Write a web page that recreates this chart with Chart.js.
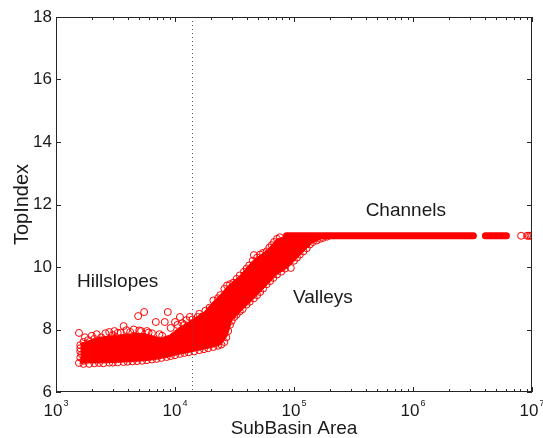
<!DOCTYPE html>
<html lang="en">
<head>
  <meta charset="UTF-8">
  <title>TopIndex vs SubBasin Area</title>
  <style>
    body {
      margin: 0;
      background-color: #ffffff;
      font-family: "Liberation Sans", Arial, sans-serif;
    }

    .chart {
      width: 543px;
      height: 438px;
    }
  </style>
</head>
<body>
  <div class="chart">
    <canvas id="topChart" width="543" height="438"></canvas>
  </div>

  <script src="https://cdn.jsdelivr.net/npm/chart.js"></script>
  <script>
    // axis ticks
    const areaTicks = [1e3, 1e4, 1e5, 1e6, 1e7];
    const areaTickExp = ['3', '4', '5', '6', '7'];
    const indexTicks = [6, 8, 10, 12, 14, 16, 18];
    const dividerArea = 1.39e4;

    // dense core of the point cloud (upper and lower edge of the mass)
    const bandArea = [1.6e3, 2.3e3, 3.3e3, 4.5e3, 5.5e3, 6.5e3, 7.5e3, 9e3, 1.05e4, 1.35e4, 1.75e4, 2.1e4,
                      2.45e4, 2.75e4, 3e4, 3.5e4, 4.5e4, 6e4, 7.2e4, 9e4, 1.1e5, 1.4e5, 1.8e5];
    const bandTop = [7.55, 7.75, 7.82, 7.87, 7.87, 7.8, 7.72, 7.82, 8.02, 8.28, 8.55, 8.9,
                     9.15, 9.38, 9.5, 9.72, 10.2, 10.55, 10.9, 11.0, 11.0, 11.0, 11.0];
    const bandBase = [6.93, 6.93, 6.95, 6.98, 7.0, 7.03, 7.07, 7.13, 7.2, 7.28, 7.37, 7.44,
                      7.52, 7.8, 8.28, 8.55, 8.95, 9.45, 9.76, 10.0, 10.35, 10.75, 10.95];

    // hillslope points around the edge of the mass
    const hillArea = [1.56e3, 1.6e3, 1.6e3, 1.56e3, 1.7e3, 1.86e3, 1.9e3, 2.1e3, 2.4e3, 2.8e3, 3.0e3, 3.3e3,
                      3.7e3, 4.2e3, 4.9e3, 5.5e3, 5.2e3, 6.0e3, 6.9e3, 7.8e3, 8.2e3, 8.7e3, 1.0e4, 1.1e4,
                      1.2e4, 1.33e4, 1.55e4, 1.8e4,
                      1.75e3, 2.0e3, 2.2e3, 2.6e3, 3.1e3, 3.5e3, 3.9e3, 4.5e3, 5.0e3, 5.8e3, 6.4e3, 7.4e3,
                      9.2e3, 1.05e4, 1.15e4, 1.25e4, 1.4e4, 1.6e4, 1.7e4, 1.95e4, 2.2e4,
                      1.6e3, 1.65e3, 1.6e3, 1.7e3,
                      1.9e3, 2.3e3, 2.8e3, 3.3e3, 4.0e3, 4.8e3, 5.8e3, 7.0e3, 8.5e3, 1.0e4, 1.2e4, 1.45e4,
                      1.75e4, 2.1e4, 2.45e4,
                      1.7e3, 2.1e3, 2.5e3, 3.0e3, 3.7e3, 4.4e3, 5.3e3, 6.4e3, 7.7e3, 9.2e3, 1.1e4, 1.3e4,
                      1.6e4, 1.9e4, 2.3e4, 2.6e4];
    const hillIndex = [7.89, 7.5, 7.3, 6.93, 7.6, 7.66, 7.12, 7.7, 7.75, 7.92, 7.82, 7.89,
                       8.11, 7.92, 8.43, 8.56, 7.95, 7.9, 8.24, 7.8, 8.24, 8.56, 8.24, 8.4,
                       8.15, 8.4, 8.4, 8.6,
                       7.75, 7.8, 7.85, 7.88, 7.95, 7.9, 7.98, 8.0, 7.97, 7.95, 7.88, 7.85,
                       8.05, 8.15, 8.2, 8.3, 8.32, 8.5, 8.42, 8.7, 8.8,
                       7.1, 7.2, 7.4, 7.0,
                       6.9, 6.93, 6.94, 6.95, 6.97, 6.99, 7.02, 7.06, 7.12, 7.18, 7.25, 7.3,
                       7.37, 7.44, 7.52,
                       6.9, 6.92, 6.92, 6.94, 6.96, 6.98, 7.0, 7.04, 7.09, 7.15, 7.22, 7.27,
                       7.34, 7.4, 7.48, 7.6];

    // valley points
    const valleyArea = [2.1e4, 2.4e4, 2.74e4, 3.1e4, 3.5e4, 4.0e4, 4.5e4, 4.6e4, 5.2e4, 5.9e4, 6.5e4, 7.2e4,
                        2.3e4, 2.6e4, 2.9e4, 3.3e4, 3.8e4, 4.2e4, 4.9e4, 5.5e4, 6.2e4, 6.8e4, 7.6e4,
                        2.7e4, 2.8e4, 2.9e4, 3.0e4, 3.3e4, 3.7e4, 4.25e4, 4.9e4, 5.5e4, 6.3e4, 7.2e4, 8.4e4,
                        9.4e4, 1.0e5, 1.12e5, 1.28e5, 1.44e5, 1.65e5, 1.89e5,
                        3.15e4, 3.5e4, 4.0e4, 4.6e4, 5.2e4, 5.9e4, 6.7e4, 7.8e4, 1.06e5, 1.2e5, 1.36e5,
                        1.55e5, 1.75e5];
    const valleyIndex = [8.93, 9.1, 9.41, 9.5, 9.73, 9.95, 10.2, 10.38, 10.4, 10.5, 10.7, 10.9,
                         9.0, 9.3, 9.45, 9.62, 9.85, 10.05, 10.3, 10.45, 10.62, 10.8, 10.95,
                         7.75, 7.95, 8.15, 8.28, 8.48, 8.65, 8.89, 9.1, 9.31, 9.55, 9.76, 9.95,
                         9.97, 10.2, 10.4, 10.6, 10.8, 10.9, 10.97,
                         8.4, 8.58, 8.8, 9.0, 9.2, 9.45, 9.65, 9.85, 10.3, 10.5, 10.72,
                         10.85, 10.93];

    // channel points (saturated at 11), continuous runs and single points
    const channelIndex = 11;
    const channelRuns = [[8.65e4, 3.22e6], [4.06e6, 6.1e6]];
    const channelArea = [8.1e6, 9.1e6, 9.4e6, 9.7e6, 1e7];

    const notes = [
      { text: 'Hillslopes', x: 1.5e3, y: 9.52 },
      { text: 'Valleys', x: 9.8e4, y: 9.0 },
      { text: 'Channels', x: 4.0e5, y: 11.8 }
    ];

    const ink = '#1a1a1a';
    const red = '#ff0000';
    const family = '"Liberation Sans", Arial, sans-serif';

    function pairs(xs, ys) {
      return xs.map((x, i) => ({ x: x, y: ys[i] }));
    }

    const runPoints = [];
    channelRuns.forEach((run, i) => {
      if (i > 0) runPoints.push({ x: Math.sqrt(channelRuns[i - 1][1] * run[0]), y: null });
      runPoints.push({ x: run[0], y: channelIndex }, { x: run[1], y: channelIndex });
    });

    const frame = {
      id: 'frame',
      afterDatasetsDraw(chart) {
        const { ctx, chartArea: a, scales: { x, y } } = chart;
        ctx.save();

        // dotted divider
        const dx = Math.round(x.getPixelForValue(dividerArea)) + 0.5;
        ctx.strokeStyle = '#555';
        ctx.lineWidth = 1;
        ctx.setLineDash([1, 3]);
        ctx.beginPath();
        ctx.moveTo(dx, a.top);
        ctx.lineTo(dx, a.bottom);
        ctx.stroke();
        ctx.setLineDash([]);

        // box
        ctx.strokeStyle = '#262626';
        ctx.strokeRect(a.left + 0.5, a.top + 0.5, a.right - a.left - 1, a.bottom - a.top - 1);

        // inward ticks, log minor ticks on x
        ctx.beginPath();
        for (let e = 3; e <= 7; e++) {
          for (let m = 1; m < 10; m++) {
            const v = m * Math.pow(10, e);
            if (v > 1e7) break;
            const px = Math.round(x.getPixelForValue(v)) + 0.5;
            const len = m === 1 ? 5 : 3;
            ctx.moveTo(px, a.bottom);
            ctx.lineTo(px, a.bottom - len);
            ctx.moveTo(px, a.top);
            ctx.lineTo(px, a.top + len);
          }
        }
        indexTicks.forEach(v => {
          const py = Math.round(y.getPixelForValue(v)) + 0.5;
          ctx.moveTo(a.left, py);
          ctx.lineTo(a.left + 5, py);
          ctx.moveTo(a.right, py);
          ctx.lineTo(a.right - 5, py);
        });
        ctx.stroke();

        // x tick labels: 10 with a raised exponent
        ctx.fillStyle = ink;
        ctx.textAlign = 'left';
        ctx.textBaseline = 'alphabetic';
        areaTicks.forEach((v, i) => {
          ctx.font = '17px ' + family;
          const w10 = ctx.measureText('10').width;
          ctx.font = '9px ' + family;
          const wExp = ctx.measureText(areaTickExp[i]).width;
          const left = x.getPixelForValue(v) - (w10 + wExp + 1) / 2;
          ctx.font = '17px ' + family;
          ctx.fillText('10', left, a.bottom + 24);
          ctx.font = '9px ' + family;
          ctx.fillText(areaTickExp[i], left + w10 + 1, a.bottom + 14);
        });

        // region labels
        ctx.font = '19px ' + family;
        ctx.textBaseline = 'middle';
        notes.forEach(n => {
          ctx.fillText(n.text, x.getPixelForValue(n.x), y.getPixelForValue(n.y));
        });
        ctx.restore();
      }
    };

    const circle = {
      pointStyle: 'circle',
      pointRadius: 3.5,
      borderWidth: 1,
      borderColor: red,
      backgroundColor: 'rgba(0,0,0,0)'
    };

    const ctx = document.getElementById('topChart').getContext('2d');
    const chart = new Chart(ctx, {
      type: 'scatter',
      data: {
        datasets: [
          Object.assign({ label: 'Hillslopes', data: pairs(hillArea, hillIndex) }, circle),
          Object.assign({ label: 'Valleys', data: pairs(valleyArea, valleyIndex) }, circle),
          Object.assign({ label: 'Channels', data: channelArea.map(a => ({ x: a, y: channelIndex })) }, circle),
          {
            type: 'line',
            label: 'Channel runs',
            data: runPoints,
            borderColor: red,
            borderWidth: 7,
            borderCapStyle: 'round',
            pointRadius: 0,
            spanGaps: false,
            fill: false
          },
          {
            type: 'line',
            label: 'Core top',
            data: pairs(bandArea, bandTop),
            borderColor: red,
            borderWidth: 1,
            backgroundColor: red,
            pointRadius: 0,
            fill: '+1'
          },
          {
            type: 'line',
            label: 'Core base',
            data: pairs(bandArea, bandBase),
            borderColor: red,
            borderWidth: 1,
            pointRadius: 0,
            fill: false
          }
        ]
      },
      options: {
        responsive: false,
        animation: false,
        devicePixelRatio: 1,
        layout: {
          padding: { top: 17, right: 11, left: 0, bottom: 0 }
        },
        plugins: {
          legend: { display: false },
          tooltip: { enabled: false }
        },
        scales: {
          x: {
            type: 'logarithmic',
            min: 1e3,
            max: 1e7,
            afterBuildTicks: s => { s.ticks = areaTicks.map(v => ({ value: v })); },
            afterFit: s => { s.height = 46; },
            grid: { display: false, drawTicks: false },
            border: { display: false },
            ticks: { display: false },
            title: {
              display: true,
              text: 'SubBasin Area',
              color: ink,
              padding: { top: 0, bottom: 0 },
              font: { family: family, size: 19, lineHeight: 1 }
            }
          },
          y: {
            min: 6,
            max: 18,
            afterFit: s => { s.width = 56; },
            grid: { display: false, drawTicks: false },
            border: { display: false },
            ticks: {
              stepSize: 2,
              padding: 4,
              color: ink,
              font: { family: family, size: 17 }
            },
            title: {
              display: true,
              text: 'TopIndex',
              color: ink,
              padding: { top: 10, bottom: 0 },
              font: { family: family, size: 20 }
            }
          }
        }
      },
      plugins: [frame]
    });
  </script>
</body>
</html>
